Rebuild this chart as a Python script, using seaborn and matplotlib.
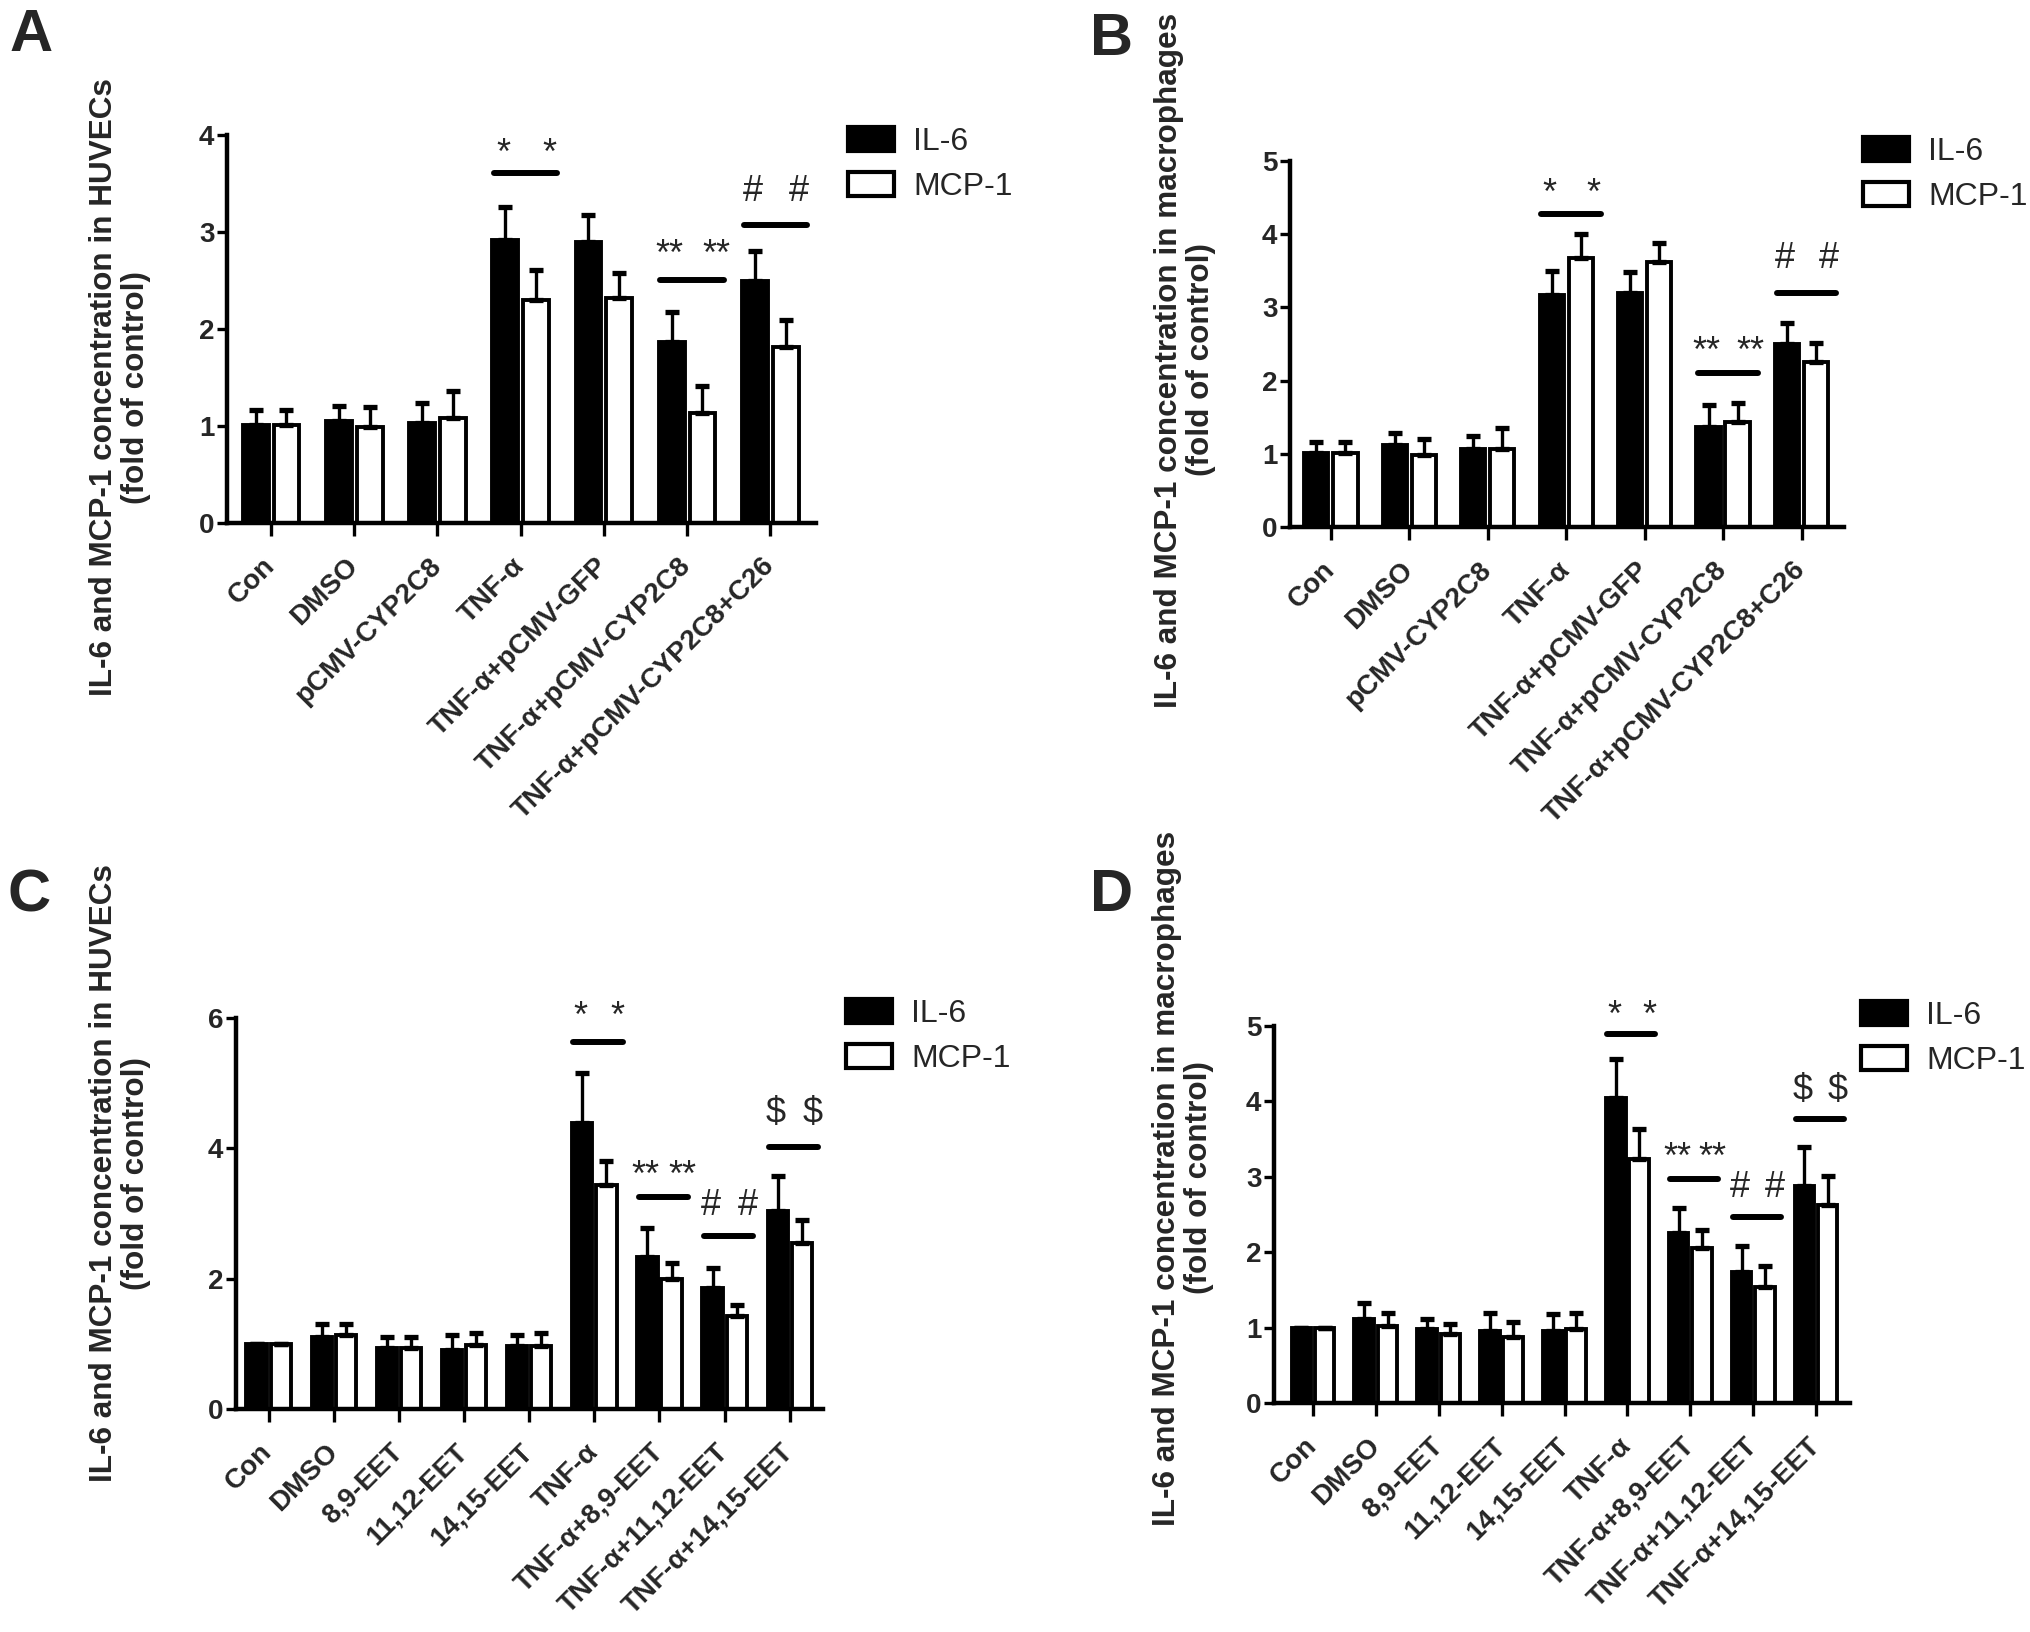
import numpy as np
import pandas as pd
import matplotlib
matplotlib.use("Agg")
import matplotlib.pyplot as plt
import seaborn as sns

# ---- data ----
groups_ab = ["Con", "DMSO", "pCMV-CYP2C8", "TNF-α", "TNF-α+pCMV-GFP",
             "TNF-α+pCMV-CYP2C8", "TNF-α+pCMV-CYP2C8+C26"]
groups_cd = ["Con", "DMSO", "8,9-EET", "11,12-EET", "14,15-EET", "TNF-α",
             "TNF-α+8,9-EET", "TNF-α+11,12-EET", "TNF-α+14,15-EET"]

a_il6 = [1.01, 1.05, 1.03, 2.92, 2.90, 1.87, 2.50]
a_il6_err = [0.15, 0.16, 0.21, 0.34, 0.28, 0.31, 0.30]
a_mcp = [1.01, 0.99, 1.08, 2.30, 2.32, 1.13, 1.81]
a_mcp_err = [0.15, 0.21, 0.28, 0.31, 0.26, 0.28, 0.28]

b_il6 = [1.01, 1.12, 1.06, 3.17, 3.20, 1.37, 2.50]
b_il6_err = [0.15, 0.17, 0.19, 0.33, 0.28, 0.30, 0.29]
b_mcp = [1.01, 0.99, 1.07, 3.68, 3.62, 1.44, 2.25]
b_mcp_err = [0.15, 0.21, 0.28, 0.32, 0.26, 0.25, 0.26]

c_il6 = [1.00, 1.10, 0.94, 0.90, 0.96, 4.39, 2.33, 1.85, 3.04]
c_il6_err = [0.0, 0.21, 0.16, 0.24, 0.18, 0.76, 0.44, 0.32, 0.53]
c_mcp = [1.00, 1.14, 0.94, 0.98, 0.96, 3.43, 1.99, 1.43, 2.55]
c_mcp_err = [0.0, 0.17, 0.16, 0.19, 0.20, 0.38, 0.25, 0.17, 0.35]

d_il6 = [1.00, 1.11, 0.98, 0.95, 0.96, 4.04, 2.25, 1.74, 2.88]
d_il6_err = [0.0, 0.21, 0.13, 0.24, 0.22, 0.52, 0.33, 0.34, 0.51]
d_mcp = [1.00, 1.02, 0.92, 0.87, 0.98, 3.24, 2.05, 1.54, 2.63]
d_mcp_err = [0.0, 0.18, 0.13, 0.20, 0.21, 0.39, 0.24, 0.28, 0.38]

# significance marks: group index, bar height, symbol centre height, symbol
a_sig_groups = [3, 5, 6]
a_sig_line = [3.61, 2.51, 3.07]
a_sig_text = [3.92, 2.88, 3.45]
a_sig_sym = ["*", "**", "#"]

b_sig_groups = [3, 5, 6]
b_sig_line = [4.27, 2.11, 3.19]
b_sig_text = [4.70, 2.54, 3.71]
b_sig_sym = ["*", "**", "#"]

c_sig_groups = [5, 6, 7, 8]
c_sig_line = [5.63, 3.26, 2.66, 4.02]
c_sig_text = [6.18, 3.74, 3.18, 4.59]
c_sig_sym = ["*", "**", "#", "$"]

d_sig_groups = [5, 6, 7, 8]
d_sig_line = [4.89, 2.97, 2.47, 3.77]
d_sig_text = [5.28, 3.40, 2.90, 4.19]
d_sig_sym = ["*", "**", "#", "$"]

markers = ["IL-6", "MCP-1"]

sns.set_theme(style="ticks")
plt.rcParams["font.family"] = ["Liberation Sans", "DejaVu Sans"]

W, H = 2031, 1632
fig = plt.figure(figsize=(W / 100, H / 100), dpi=100)

SYM_SIZE = 26
# height of the glyph centre above the baseline, in em
SYM_CENTRE = {"*": 0.58, "**": 0.58, "#": 0.36, "$": 0.36}


def px_axes(left, right, top, bottom):
    return fig.add_axes([left / W, 1 - bottom / H, (right - left) / W, (bottom - top) / H])


def draw_panel(ax, groups, il6, il6_err, mcp, mcp_err, ymax, ystep, xlim,
               sig_groups, sig_line, sig_text, sig_sym, legend_xy):
    df = pd.DataFrame({
        "group": groups * 2,
        "marker": [markers[0]] * len(groups) + [markers[1]] * len(groups),
        "value": il6 + mcp,
    })
    sns.barplot(data=df, x="group", y="value", hue="marker", order=groups,
                hue_order=markers, palette=["black", "white"], edgecolor="black",
                linewidth=2.8, width=0.74, gap=0.16, errorbar=None, ax=ax)

    # one-sided error bars on top of each bar
    for cont, err in zip(ax.containers, [il6_err, mcp_err]):
        xs = [b.get_x() + b.get_width() / 2 for b in cont]
        hs = [b.get_height() for b in cont]
        ax.errorbar(xs, hs, yerr=[np.zeros(len(err)), err], fmt="none",
                    ecolor="black", elinewidth=2.4, capsize=5, capthick=3.8, zorder=3)

    for g, ly, ty, s in zip(sig_groups, sig_line, sig_text, sig_sym):
        ax.plot([g - 0.32, g + 0.44], [ly, ly], color="black", lw=4.3,
                solid_capstyle="round", clip_on=False)
        for dx in (-0.21, 0.35):
            ax.annotate(s, xy=(g + dx, ty), xytext=(0, -SYM_CENTRE[s] * SYM_SIZE),
                        textcoords="offset points", ha="center", va="baseline",
                        fontsize=SYM_SIZE, annotation_clip=False)

    ax.set_xlim(*xlim)
    ax.set_ylim(0, ymax)
    ax.set_yticks(np.arange(0, ymax + 0.01, ystep))
    ax.set_xlabel("")
    ax.set_ylabel("")
    sns.despine(ax=ax)
    for sp in ("left", "bottom"):
        ax.spines[sp].set_linewidth(3.2)
        ax.spines[sp].set_color("black")
    ax.tick_params(axis="x", length=9, width=2.4, color="black", pad=19)
    ax.tick_params(axis="y", length=7, width=2.4, color="black", pad=2)
    ax.set_xticks(range(len(groups)))
    ax.set_xticklabels(groups, rotation=45, ha="right", va="center",
                       rotation_mode="anchor", fontsize=20, fontweight="bold")
    for t in ax.get_yticklabels():
        t.set_fontsize(20)
        t.set_fontweight("bold")

    handles, labels = ax.get_legend_handles_labels()
    leg = ax.legend(handles, labels, loc="upper left",
                    bbox_to_anchor=(legend_xy[0] / W, 1 - legend_xy[1] / H),
                    bbox_transform=fig.transFigure, frameon=False, borderpad=0,
                    borderaxespad=0, handlelength=1.45, handleheight=0.8,
                    handletextpad=0.6, labelspacing=0.45,
                    prop={"size": 23})
    for h in leg.legend_handles:
        h.set_edgecolor("black")
        h.set_linewidth(3)


ax_a = px_axes(227, 816, 135, 523)
draw_panel(ax_a, groups_ab, a_il6, a_il6_err, a_mcp, a_mcp_err, 4, 1, (-0.53, 6.55),
           a_sig_groups, a_sig_line, a_sig_text, a_sig_sym, (848, 127))

ax_b = px_axes(1290, 1844, 161, 527)
draw_panel(ax_b, groups_ab, b_il6, b_il6_err, b_mcp, b_mcp_err, 5, 1, (-0.52, 6.54),
           b_sig_groups, b_sig_line, b_sig_text, b_sig_sym, (1863, 137))

ax_c = px_axes(236, 823, 1018, 1409)
draw_panel(ax_c, groups_cd, c_il6, c_il6_err, c_mcp, c_mcp_err, 6, 2, (-0.5, 8.51),
           c_sig_groups, c_sig_line, c_sig_text, c_sig_sym, (846, 999))

ax_d = px_axes(1274, 1850, 1026, 1403)
draw_panel(ax_d, groups_cd, d_il6, d_il6_err, d_mcp, d_mcp_err, 5, 1, (-0.62, 8.54),
           d_sig_groups, d_sig_line, d_sig_text, d_sig_sym, (1861, 1001))

# y labels
ylab_huvec = "IL-6 and MCP-1 concentration in HUVECs\n(fold of control)"
ylab_macro = "IL-6 and MCP-1 concentration in macrophages\n(fold of control)"
for (x, y), lab in zip([(120, 387), (1185, 360), (120, 1173), (1183, 1178)],
                       [ylab_huvec, ylab_macro, ylab_huvec, ylab_macro]):
    fig.text(x / W, 1 - y / H, lab, rotation=90, ha="center", va="center",
             multialignment="center", fontsize=22.7, fontweight="bold", linespacing=1.12)

# panel letters
for (x, y), letter in zip([(10, 8), (1090, 12), (8, 868), (1090, 868)], "ABCD"):
    fig.text(x / W, 1 - y / H, letter, ha="left", va="top", fontsize=43,
             fontweight="bold")

fig.savefig("out.png", dpi=100, facecolor="white")
